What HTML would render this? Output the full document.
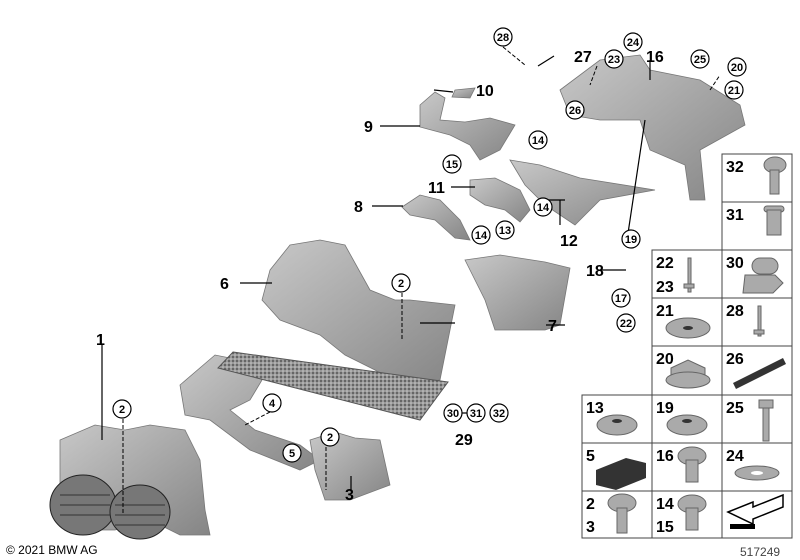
<!DOCTYPE html>
<html><head><style>
body{margin:0;background:#fff;}
svg{display:block;font-family:"Liberation Sans",Arial,sans-serif;}
.n{font-weight:bold;font-size:16px;fill:#000}
.c{font-weight:bold;font-size:11px;fill:#000}
.g{font-weight:bold;font-size:16px;}
</style></head><body>
<svg width="800" height="560" viewBox="0 0 800 560" xmlns="http://www.w3.org/2000/svg">
<defs>
<linearGradient id="gr" x1="0" y1="0" x2="1" y2="1"><stop offset="0" stop-color="#c8c8c8"/><stop offset="1" stop-color="#858585"/></linearGradient>
<pattern id="dots" width="4" height="4" patternUnits="userSpaceOnUse"><rect width="4" height="4" fill="#999"/><circle cx="1" cy="1" r="1" fill="#555"/><circle cx="3" cy="3" r="0.8" fill="#ccc"/></pattern>
</defs>
<g fill="url(#gr)" stroke="#777" stroke-width="0.8">
<path d="M560 90 L600 60 L640 55 L650 70 L700 80 L740 105 L745 125 L700 150 L705 200 L690 200 L685 165 L650 150 L640 120 L600 120 L570 115 Z"/>
<path d="M455 90 L475 88 L470 98 L452 97 Z"/>
<path d="M420 105 L435 92 L445 98 L440 120 L465 122 L490 118 L515 125 L500 150 L480 160 L470 145 L450 135 L420 127 Z"/>
<path d="M470 180 L495 178 L520 190 L530 210 L520 222 L505 210 L485 205 L470 195 Z"/>
<path d="M510 160 L540 165 L580 178 L655 190 L600 200 L575 225 L545 205 L525 185 Z"/>
<path d="M402 207 L420 195 L440 200 L460 220 L470 240 L455 238 L435 220 L410 215 Z"/>
<path d="M270 270 L290 245 L320 240 L345 245 L370 290 L395 300 L410 300 L455 305 L440 380 L400 385 L375 370 L345 355 L320 335 L280 320 L262 300 Z"/>
<path d="M465 260 L500 255 L545 262 L570 268 L560 325 L545 330 L495 330 L485 300 Z"/>
<path d="M180 385 L215 355 L240 360 L262 380 L250 400 L230 410 L255 430 L300 445 L320 460 L300 470 L250 450 L210 420 L185 415 Z"/>
<path d="M310 440 L335 432 L355 438 L380 440 L390 485 L350 500 L325 500 L315 470 Z"/>
<path d="M60 440 L95 425 L125 430 L150 425 L185 430 L200 460 L205 510 L210 535 L180 535 L150 520 L115 530 L85 530 L60 505 Z"/>
</g>
<ellipse cx="83" cy="505" rx="33" ry="30" fill="#777" stroke="#222"/>
<ellipse cx="140" cy="512" rx="30" ry="27" fill="#777" stroke="#222"/>
<g stroke="#333" stroke-width="1">
<path d="M60 495 h50 M60 505 h50 M60 515 h50 M115 505 h50 M115 515 h50 M115 525 h50"/>
</g>
<polygon points="233,352 448,382 420,420 218,368" fill="url(#dots)" stroke="#555"/>
<g stroke="#000" stroke-width="1.2" fill="none">
<line x1="554" y1="56" x2="538" y2="66"/>
<line x1="434" y1="90" x2="453" y2="92"/>
<line x1="380" y1="126" x2="420" y2="126"/>
<line x1="451" y1="187" x2="475" y2="187"/>
<line x1="372" y1="206" x2="403" y2="206"/>
<line x1="542" y1="200" x2="565" y2="200"/>
<line x1="560" y1="200" x2="560" y2="225"/>
<line x1="240" y1="283" x2="272" y2="283"/>
<line x1="420" y1="323" x2="455" y2="323"/>
<line x1="546" y1="325" x2="565" y2="325"/>
<line x1="102" y1="345" x2="102" y2="440"/>
<line x1="455" y1="413" x2="473" y2="413"/>
<line x1="601" y1="270" x2="626" y2="270"/>
<line x1="351" y1="476" x2="351" y2="490"/>
<line x1="650" y1="80" x2="650" y2="60"/>
<line x1="627" y1="240" x2="645" y2="120"/>
</g>
<g stroke="#000" stroke-width="1" stroke-dasharray="4,2" fill="none">
<line x1="123" y1="419" x2="123" y2="515"/>
<line x1="402" y1="293" x2="402" y2="340"/>
<line x1="326" y1="447" x2="326" y2="490"/>
<line x1="270" y1="412" x2="245" y2="425"/>
<line x1="503" y1="47" x2="525" y2="65"/>
<line x1="597" y1="66" x2="590" y2="85"/>
<line x1="710" y1="90" x2="720" y2="75"/>
</g>
<g class="n">
<text x="574" y="62">27</text><text x="646" y="62">16</text>
<text x="476" y="96">10</text><text x="364" y="132">9</text>
<text x="428" y="193">11</text><text x="354" y="212">8</text>
<text x="560" y="246">12</text><text x="220" y="289">6</text>
<text x="548" y="331">7</text><text x="96" y="345">1</text>
<text x="455" y="445">29</text><text x="345" y="500">3</text>
<text x="586" y="276">18</text>
</g>
<g fill="#fff" stroke="#000" stroke-width="1.2">
<circle cx="503" cy="37" r="9"/><circle cx="633" cy="42" r="9"/><circle cx="614" cy="59" r="9"/>
<circle cx="700" cy="59" r="9"/><circle cx="737" cy="67" r="9"/><circle cx="734" cy="90" r="9"/>
<circle cx="575" cy="110" r="9"/><circle cx="538" cy="140" r="9"/><circle cx="452" cy="164" r="9"/>
<circle cx="543" cy="207" r="9"/><circle cx="505" cy="230" r="9"/><circle cx="481" cy="235" r="9"/>
<circle cx="631" cy="239" r="9"/><circle cx="401" cy="283" r="9"/><circle cx="621" cy="298" r="9"/>
<circle cx="626" cy="323" r="9"/><circle cx="122" cy="409" r="9"/><circle cx="272" cy="403" r="9"/>
<circle cx="453" cy="413" r="9"/><circle cx="476" cy="413" r="9"/><circle cx="499" cy="413" r="9"/>
<circle cx="292" cy="453" r="9"/><circle cx="330" cy="437" r="9"/>
</g>
<g class="c" text-anchor="middle">
<text x="503" y="41">28</text><text x="633" y="46">24</text><text x="614" y="63">23</text>
<text x="700" y="63">25</text><text x="737" y="71">20</text><text x="734" y="94">21</text>
<text x="575" y="114">26</text><text x="538" y="144">14</text><text x="452" y="168">15</text>
<text x="543" y="211">14</text><text x="505" y="234">13</text><text x="481" y="239">14</text>
<text x="631" y="243">19</text><text x="401" y="287">2</text><text x="621" y="302">17</text>
<text x="626" y="327">22</text><text x="122" y="413">2</text><text x="272" y="407">4</text>
<text x="453" y="417">30</text><text x="476" y="417">31</text><text x="499" y="417">32</text>
<text x="292" y="457">5</text><text x="330" y="441">2</text>
</g>
<g fill="none" stroke="#444" stroke-width="1">
<rect x="722" y="154" width="70" height="384"/>
<rect x="652" y="250" width="70" height="288"/>
<rect x="582" y="395" width="70" height="143"/>
<path d="M722 202 h70 M652 250 h140 M652 298 h140 M652 346 h140 M582 395 h210 M582 443 h210 M582 491 h210"/>
</g>
<g class="g">
<text x="726" y="172">32</text><text x="726" y="220">31</text>
<text x="656" y="268">22</text><text x="656" y="292">23</text><text x="726" y="268">30</text>
<text x="656" y="316">21</text><text x="726" y="316">28</text>
<text x="656" y="364">20</text><text x="726" y="364">26</text>
<text x="586" y="413">13</text><text x="656" y="413">19</text><text x="726" y="413">25</text>
<text x="586" y="461">5</text><text x="656" y="461">16</text><text x="726" y="461">24</text>
<text x="586" y="509">2</text><text x="586" y="532">3</text><text x="656" y="509">14</text><text x="656" y="532">15</text>
</g>
<g fill="#aaa" stroke="#666">
<ellipse cx="775" cy="165" rx="11" ry="8"/><rect x="770" y="170" width="9" height="24"/>
<rect x="764" y="206" width="20" height="6" rx="3"/><rect x="767" y="210" width="14" height="25"/>
<path d="M745 275 h30 l8 8 l-10 10 h-30 z"/><rect x="752" y="258" width="26" height="16" rx="8"/>
<rect x="688" y="258" width="3" height="34"/><rect x="684" y="284" width="10" height="4"/>
<rect x="758" y="306" width="3" height="30"/><rect x="754" y="330" width="10" height="4"/>
<ellipse cx="688" cy="328" rx="22" ry="10"/>
<path d="M671 368 l17 -8 l17 8 v10 l-17 8 l-17 -8 z"/><ellipse cx="688" cy="380" rx="22" ry="8"/>
<ellipse cx="617" cy="425" rx="20" ry="10"/><ellipse cx="687" cy="425" rx="20" ry="10"/>
<rect x="759" y="400" width="14" height="8"/><rect x="763" y="408" width="6" height="33"/>
<ellipse cx="757" cy="473" rx="22" ry="7"/>
<ellipse cx="692" cy="456" rx="14" ry="9"/><rect x="686" y="460" width="12" height="22"/>
<ellipse cx="692" cy="504" rx="14" ry="9"/><rect x="686" y="508" width="12" height="22"/>
<ellipse cx="622" cy="503" rx="14" ry="9"/><rect x="617" y="508" width="10" height="25"/>
</g>
<g fill="#333"><ellipse cx="688" cy="328" rx="5" ry="2"/><ellipse cx="617" cy="421" rx="5" ry="2"/><ellipse cx="687" cy="421" rx="5" ry="2"/><ellipse cx="757" cy="473" rx="6" ry="2" fill="#fff"/>
<path d="M733 383 l50 -25 l3 6 l-50 25 z"/><path d="M596 470 l30 -12 l20 5 v15 l-30 12 l-20 -5 z"/></g>
<path d="M728 512 l25 -10 v5 l30 -12 v12 l-30 12 v5 z M730 526 h25" fill="#fff" stroke="#000" stroke-width="1.5"/>
<rect x="730" y="524" width="25" height="5" fill="#000"/>
<text x="6" y="554" font-size="12" fill="#000">© 2021 BMW AG</text>
<text x="740" y="556" font-size="12" fill="#444">517249</text>
</svg>
</body></html>
